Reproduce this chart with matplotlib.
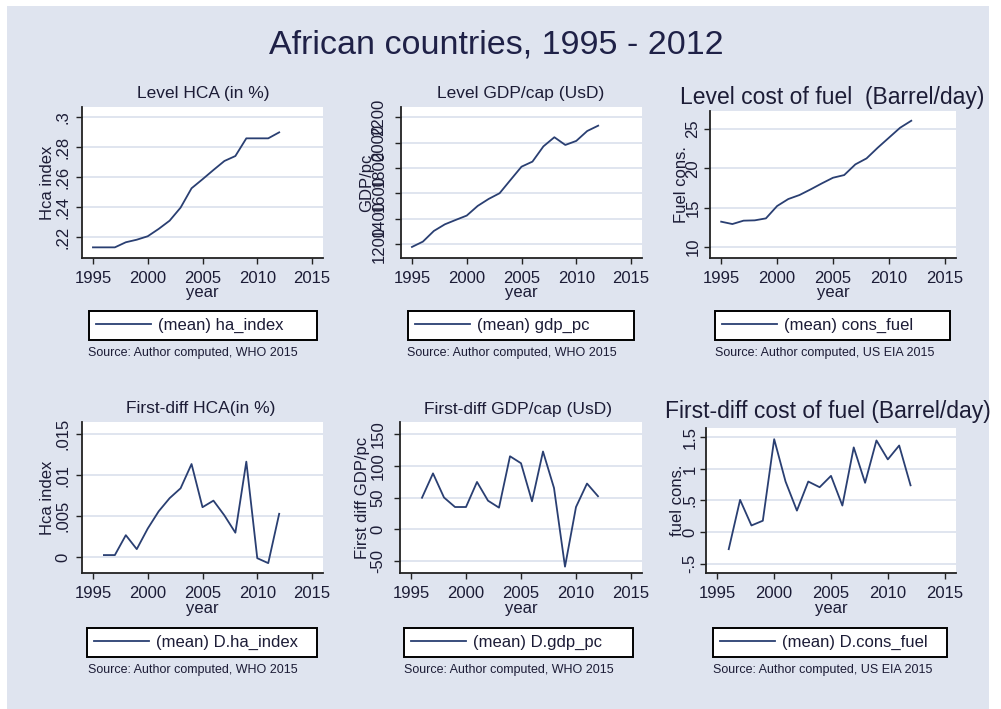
import matplotlib
matplotlib.use('Agg')
import matplotlib.pyplot as plt
from matplotlib.patches import Rectangle

plt.rcParams['font.family'] = ['Liberation Sans', 'DejaVu Sans']

# ---------------- data ----------------
years = list(range(1995, 2013))
diff_years = list(range(1996, 2013))

ha_index = [0.2133, 0.2133, 0.2133, 0.2167, 0.2184, 0.2207, 0.2256, 0.2311, 0.2398,
            0.2527, 0.2587, 0.2649, 0.2709, 0.2742, 0.2860, 0.2860, 0.2860, 0.2900]
gdp_pc = [1179, 1221, 1305, 1357, 1392, 1426, 1502, 1557, 1602,
          1707, 1811, 1851, 1971, 2043, 1982, 2014, 2092, 2134]
cons_fuel = [13.22, 12.92, 13.35, 13.39, 13.64, 15.21, 16.10, 16.61, 17.33,
             18.09, 18.81, 19.15, 20.51, 21.27, 22.63, 23.90, 25.17, 26.06]

d_ha_index = [0.00028, 0.00028, 0.0027, 0.0010, 0.0035, 0.0056, 0.0072, 0.0084, 0.01135,
              0.0061, 0.0069, 0.0051, 0.0030, 0.01164, -0.0001, -0.0007, 0.0053]
d_gdp_pc = [49.6, 88, 50, 35, 35, 74.5, 45, 34, 115, 104, 44, 122.5, 65, -59, 35, 72, 52]
d_cons_fuel = [-0.27, 0.51, 0.105, 0.18, 1.47, 0.80, 0.34, 0.80, 0.71, 0.89, 0.42,
               1.34, 0.78, 1.45, 1.15, 1.37, 0.74]

xticks = [1995, 2000, 2005, 2010, 2015]

yt_ha = [0.22, 0.24, 0.26, 0.28, 0.30]
yl_ha = ['.22', '.24', '.26', '.28', '.3']
yt_gdp = [1200, 1400, 1600, 1800, 2000, 2200]
yl_gdp = ['1200', '1400', '1600', '1800', '2000', '2200']
yt_fuel = [10, 15, 20, 25]
yl_fuel = ['10', '15', '20', '25']
yt_dha = [0, 0.005, 0.01, 0.015]
yl_dha = ['0', '.005', '.01', '.015']
yt_dgdp = [-50, 0, 50, 100, 150]
yl_dgdp = ['-50', '0', '50', '100', '150']
yt_dfuel = [-0.5, 0, 0.5, 1, 1.5]
yl_dfuel = ['-.5', '0', '.5', '1', '1.5']

main_title = 'African countries, 1995 - 2012'
titles = ['Level HCA (in %)', 'Level GDP/cap (UsD)', 'Level cost of fuel  (Barrel/day)',
          'First-diff HCA(in %)', 'First-diff GDP/cap (UsD)', 'First-diff cost of fuel (Barrel/day)']
ylabels = ['Hca index', 'GDP/pc', 'Fuel cons.', 'Hca index', 'First diff GDP/pc', 'fuel cons.']
legends = ['(mean) ha_index', '(mean) gdp_pc', '(mean) cons_fuel',
           '(mean) D.ha_index', '(mean) D.gdp_pc', '(mean) D.cons_fuel']
sources = ['Source: Author computed, WHO 2015', 'Source: Author computed, WHO 2015',
           'Source: Author computed, US EIA 2015', 'Source: Author computed, WHO 2015',
           'Source: Author computed, WHO 2015', 'Source: Author computed, US EIA 2015']

# ---------------- style ----------------
W, H = 1001, 709
BG = '#dfe4ef'
GRID = '#dde3ee'
LINE = '#2a3f72'
TXT = '#1c1c36'

fig = plt.figure(figsize=(W / 100, H / 100), dpi=100)
fig.patch.set_facecolor('white')
fig.patches.append(Rectangle((7 / W, 0), (989 - 7) / W, (709 - 6) / H,
                             transform=fig.transFigure, facecolor=BG,
                             edgecolor='none', zorder=-10))


def fx(px):
    return px / W


def fy(py):
    return 1 - py / H


def ftext(x, y, s, **kw):
    fig.text(fx(x), fy(y), s, **kw)


ftext(496, 53, main_title, ha='center', va='baseline', fontsize=24.5, color='#1f2147')

# panel layout in pixels: (x0, x1, y0, y1)
boxes = [(82, 323, 107, 258), (401, 642, 107, 258), (710, 956, 111, 258),
         (82, 323, 422, 573), (400, 642, 422, 573), (706, 956, 428, 573)]
ylims = [(0.2062, 0.3069), (1092, 2281), (8.6, 27.3),
         (-0.0019, 0.01646), (-69, 169), (-0.647, 1.647)]
series = [(years, ha_index), (years, gdp_pc), (years, cons_fuel),
          (diff_years, d_ha_index), (diff_years, d_gdp_pc), (diff_years, d_cons_fuel)]
yticks = [(yt_ha, yl_ha), (yt_gdp, yl_gdp), (yt_fuel, yl_fuel),
          (yt_dha, yl_dha), (yt_dgdp, yl_dgdp), (yt_dfuel, yl_dfuel)]
ytick_off = [19, 22, 17, 19, 22, 16]      # px from axis to tick label centre
ylabel_x = [48, 367, 681, 48, 363, 678]
title_pos = [(203, 98, 12.5), (521, 98, 12.5), (832, 104, 16.5),
             (201, 413, 12.5), (518, 414, 12.5), (828, 418, 16.5)]
leg_box = [(89, 317, 310, 341), (408, 634, 310, 341), (715, 950, 310, 341),
           (87, 317, 627, 658), (404, 633, 627, 658), (713, 947, 627, 658)]
src_pos = [(193, 353), (512, 353), (825, 353), (193, 670), (509, 670), (823, 670)]

TICKLEN = 6  # px
for i in range(6):
    x0, x1, y0, y1 = boxes[i]
    ax = fig.add_axes([fx(x0), fy(y1), (x1 - x0) / W, (y1 - y0) / H])
    ax.set_facecolor('white')
    xs, ys = series[i]
    ax.plot(xs, ys, color=LINE, lw=1.3, label=legends[i])
    ax.set_xlim(1994, 2016)
    ax.set_ylim(*ylims[i])
    ax.set_xticks(xticks, [str(t) for t in xticks], fontsize=12, color=TXT)
    yt, yl = yticks[i]
    ax.set_yticks(yt, yl, rotation=90, ha='center', va='center', fontsize=12, color=TXT)
    ax.tick_params(axis='both', length=TICKLEN * 0.72, width=1.0, color='#222222')
    ax.tick_params(axis='y', pad=(ytick_off[i] - TICKLEN) * 0.72)
    ax.tick_params(axis='x', pad=5.0)
    ax.yaxis.grid(True, color=GRID, lw=1.3)
    ax.xaxis.grid(False)
    ax.set_axisbelow(True)
    for s in ('top', 'right'):
        ax.spines[s].set_visible(False)
    for s in ('left', 'bottom'):
        ax.spines[s].set_color('#222222')
        ax.spines[s].set_linewidth(1.3)

    # axis titles
    ftext(ylabel_x[i], (y0 + y1) / 2, ylabels[i], rotation=90, ha='center',
          va='center', fontsize=12, color=TXT)
    ftext((x0 + x1) / 2, y1 + 35, 'year', ha='center', va='center', fontsize=12, color=TXT)
    tx, ty, tfs = title_pos[i]
    ftext(tx, ty, titles[i], ha='center', va='baseline', fontsize=tfs, color=TXT)

    # legend
    lx0, lx1, ly0, ly1 = leg_box[i]
    leg = ax.legend(loc='center',
                    bbox_to_anchor=(fx(lx0), fy(ly1), (lx1 - lx0) / W, (ly1 - ly0) / H),
                    bbox_transform=fig.transFigure, mode='expand', fancybox=False,
                    edgecolor='black', framealpha=1, borderaxespad=0, fontsize=12,
                    handlelength=3.3, handletextpad=0.45, borderpad=0.4)
    leg.get_frame().set_linewidth(1.4)
    for t in leg.get_texts():
        t.set_color(TXT)

    sx, sy = src_pos[i]
    ftext(sx, sy, sources[i], ha='center', va='center', fontsize=9, color=TXT)

fig.savefig('out.png', dpi=100, facecolor=fig.get_facecolor())
